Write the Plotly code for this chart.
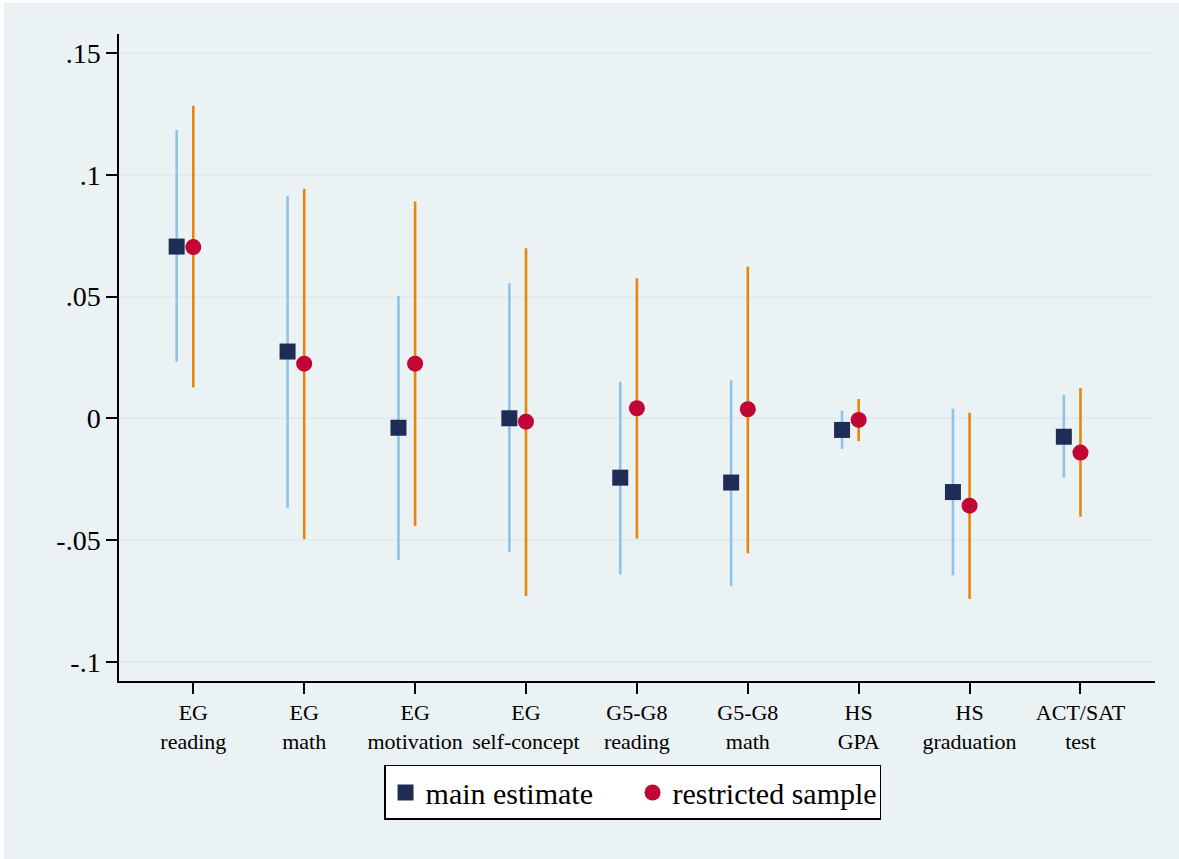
import plotly.graph_objects as go

# ---- data ----
label_line1 = ["EG", "EG", "EG", "EG", "G5-G8", "G5-G8", "HS", "HS", "ACT/SAT"]
label_line2 = ["reading", "math", "motivation", "self-concept", "reading", "math", "GPA", "graduation", "test"]
cat_pos = [1, 2, 3, 4, 5, 6, 7, 8, 9]

main_est = [0.0705, 0.0274, -0.0039, 0.0000, -0.0244, -0.0264, -0.0048, -0.0303, -0.0076]
main_lo = [0.0232, -0.0370, -0.0583, -0.0550, -0.0642, -0.0689, -0.0126, -0.0645, -0.0244]
main_hi = [0.1184, 0.0913, 0.0503, 0.0554, 0.0150, 0.0157, 0.0031, 0.0039, 0.0096]

rest_est = [0.0703, 0.0224, 0.0224, -0.0014, 0.0041, 0.0037, -0.0007, -0.0359, -0.0141]
rest_lo = [0.0126, -0.0497, -0.0442, -0.0730, -0.0494, -0.0554, -0.0094, -0.0742, -0.0404]
rest_hi = [0.1283, 0.0942, 0.0890, 0.0698, 0.0575, 0.0623, 0.0079, 0.0023, 0.0124]

y_ticks = [-0.1, -0.05, 0, 0.05, 0.1, 0.15]
y_ticktext = ["-.1", "-.05", "0", ".05", ".1", ".15"]

main_offset = -0.15

# ---- styles ----
FONT = "Liberation Serif"
BG = "#EAF2F3"
GRID = "#E2ECEF"
NAVY = "#1F2D56"
CRIMSON = "#C10534"
LIGHTBLUE = "#8EC4EA"
ORANGE = "#E8850C"

main_x = [p + main_offset for p in cat_pos]
x_ticktext = [a + "<br>" + b for a, b in zip(label_line1, label_line2)]

fig = go.Figure()

fig.add_trace(go.Scatter(
    x=main_x, y=main_est, mode="markers", name="main estimate",
    marker=dict(symbol="square", size=16, color=NAVY),
    error_y=dict(type="data", symmetric=False,
                 array=[h - e for h, e in zip(main_hi, main_est)],
                 arrayminus=[e - l for e, l in zip(main_est, main_lo)],
                 color=LIGHTBLUE, thickness=2.6, width=0),
))
fig.add_trace(go.Scatter(
    x=cat_pos, y=rest_est, mode="markers", name="restricted sample",
    marker=dict(symbol="circle", size=16, color=CRIMSON),
    error_y=dict(type="data", symmetric=False,
                 array=[h - e for h, e in zip(rest_hi, rest_est)],
                 arrayminus=[e - l for e, l in zip(rest_est, rest_lo)],
                 color=ORANGE, thickness=2.6, width=0),
))

# zero reference line
fig.add_shape(type="line", xref="paper", x0=0, x1=1, yref="y", y0=0, y1=0,
              line=dict(color="#FF0000", width=2.6), layer="below")

# outer light background panel (leaves a thin white edge at top/left)
fig.add_shape(type="rect", xref="paper", yref="paper",
              x0=-0.111, x1=1.05, y0=-0.3, y1=1.048,
              fillcolor=BG, line=dict(width=0), layer="below")

fig.update_layout(
    width=1179, height=859,
    margin=dict(l=119, r=24, t=34, b=178),
    paper_bgcolor="white",
    plot_bgcolor="white",
    font=dict(family=FONT, color="black"),
    showlegend=True,
    legend=dict(
        orientation="h", x=0.4957, xanchor="center", y=-0.1298, yanchor="top",
        bgcolor="white", bordercolor="black", borderwidth=1.5,
        font=dict(family=FONT, size=30, color="black"),
        entrywidth=202,
    ),
    xaxis=dict(
        range=[0.33, 9.672], tickmode="array", tickvals=cat_pos, ticktext=x_ticktext,
        showgrid=False, zeroline=False,
        showline=True, linecolor="black", linewidth=1.5,
        ticks="outside", ticklen=11, tickwidth=1.5, tickcolor="black",
        tickfont=dict(family=FONT, size=22, color="black"),
    ),
    yaxis=dict(
        range=[-0.1079, 0.1578], tickmode="array", tickvals=y_ticks, ticktext=y_ticktext,
        showgrid=True, gridcolor=GRID, gridwidth=2,
        zeroline=False,
        showline=True, linecolor="black", linewidth=1.5,
        ticks="outside", ticklen=11, tickwidth=1.5, tickcolor="black",
        tickfont=dict(family=FONT, size=28, color="black"),
    ),
)

fig.write_html("out.html")
